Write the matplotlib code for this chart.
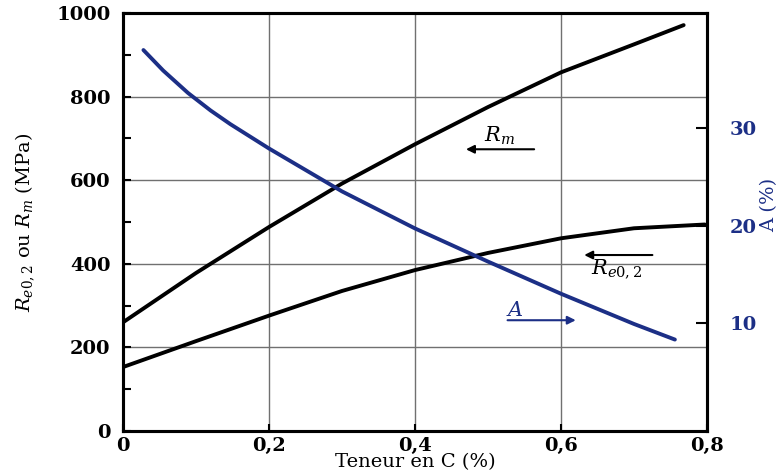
import matplotlib
matplotlib.use("Agg")
import matplotlib.pyplot as plt
from matplotlib.ticker import MultipleLocator

plt.rcParams["mathtext.fontset"] = "dejavuserif"

# Data
c_rm = [0.0, 0.1, 0.2, 0.3, 0.4, 0.5, 0.6, 0.7, 0.768]
rm = [260, 378, 488, 592, 686, 775, 858, 925, 971]

c_re = [0.0, 0.1, 0.2, 0.3, 0.4, 0.5, 0.6, 0.7, 0.797]
re = [153, 215, 276, 335, 385, 426, 461, 485, 494]

c_a = [0.028, 0.055, 0.089, 0.12, 0.147, 0.2, 0.25, 0.3, 0.4, 0.5, 0.6, 0.7, 0.756]
a = [38.0, 35.9, 33.6, 31.8, 30.4, 27.9, 25.7, 23.5, 19.7, 16.3, 13.0, 9.9, 8.3]

x_ticks = [0, 0.2, 0.4, 0.6, 0.8]
x_labels = ["0", "0,2", "0,4", "0,6", "0,8"]
y_ticks = [0, 200, 400, 600, 800, 1000]
a_ticks = [10, 20, 30]

BLUE = "#1c2f86"
FONT = "DejaVu Serif"

fig = plt.figure(figsize=(7.82, 4.74), dpi=100)
ax = fig.add_axes([123/782, 1-431/474, 584/782, (431-13)/474])
ax2 = ax.twinx()

kw = dict(lw=2.8, solid_capstyle="round", solid_joinstyle="round")
ax.plot(c_rm, rm, color="black", **kw)
ax.plot(c_re, re, color="black", **kw)
ax2.plot(c_a, a, color=BLUE, **kw)

ax.set_xlim(0, 0.8)
ax.set_ylim(0, 1000)
ax2.set_ylim(-1.08, 41.8)

ax.set_xticks(x_ticks)
ax.set_xticklabels(x_labels, fontfamily=FONT, fontweight="bold", fontsize=14)
ax.set_yticks(y_ticks)
ax.set_yticklabels([str(v) for v in y_ticks], fontfamily=FONT, fontweight="bold", fontsize=14)
ax.yaxis.set_minor_locator(MultipleLocator(100))
ax.tick_params(axis="both", which="both", direction="in", length=6, width=1.5, pad=9)
ax.tick_params(axis="x", length=5, pad=4)

ax2.set_yticks(a_ticks)
ax2.set_yticklabels([str(v) for v in a_ticks], fontfamily=FONT, fontweight="bold",
                    fontsize=14, color=BLUE)
ax2.tick_params(axis="y", direction="in", length=8, width=1.5, pad=16, labelcolor=BLUE,
                color="black")

for gx in [0.2, 0.4, 0.6]:
    ax.axvline(gx, color="#707070", lw=1.0, zorder=0)
for gy in [200, 400, 600, 800]:
    ax.axhline(gy, color="#707070", lw=1.0, zorder=0)

for axx in (ax, ax2):
    for s in axx.spines.values():
        s.set_linewidth(2.2)
        s.set_color("black")

ax.set_xlabel("Teneur en C (%)", fontfamily=FONT, fontsize=14, labelpad=-1)
ax.set_ylabel(r"$R_{e0,2}$ ou $R_m$ (MPa)", fontfamily=FONT, fontsize=14, labelpad=14)
ax2.set_ylabel("A (%)", fontfamily=FONT, fontsize=14, color=BLUE, rotation=90, labelpad=3)
ax2.yaxis.label.set_y(0.54)

# annotations
ax.annotate("", xy=(0.466, 674), xytext=(0.567, 674),
            arrowprops=dict(arrowstyle="-|>", color="black", lw=1.5, mutation_scale=12))
ax.text(0.516, 706, r"$R_m$", fontsize=15, ha="center", va="center")

ax.annotate("", xy=(0.628, 421), xytext=(0.729, 421),
            arrowprops=dict(arrowstyle="-|>", color="black", lw=1.5, mutation_scale=12))
ax.text(0.676, 388, r"$R_{e0,2}$", fontsize=15, ha="center", va="center")

ax.annotate("", xy=(0.624, 265), xytext=(0.523, 265),
            arrowprops=dict(arrowstyle="-|>", color=BLUE, lw=1.5, mutation_scale=12))
ax.text(0.537, 290, r"$A$", fontsize=15, ha="center", va="center", color=BLUE)

fig.savefig("out.png", dpi=100)
